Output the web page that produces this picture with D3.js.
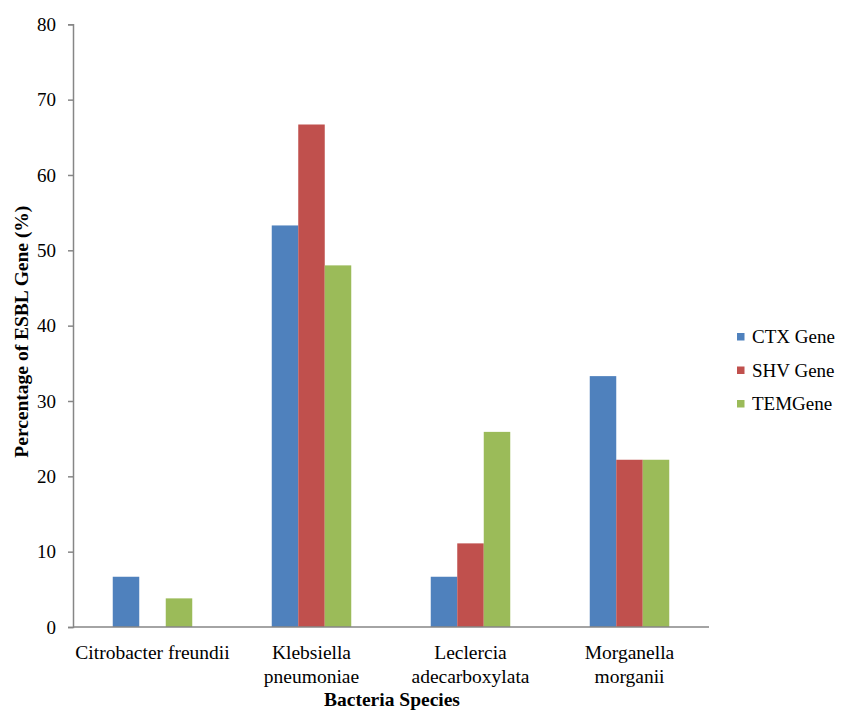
<!DOCTYPE html>
<html><head><meta charset="utf-8">
<script src="https://cdn.jsdelivr.net/npm/d3@7"></script>
<style>body{margin:0;background:#fff}svg{display:block}text{font-family:"Liberation Serif","Times New Roman",serif;fill:#000}</style>
</head><body>
<script>
const categories = [["Citrobacter freundii"], ["Klebsiella", "pneumoniae"], ["Leclercia", "adecarboxylata"], ["Morganella", "morganii"]];
const seriesNames = ["CTX Gene", "SHV Gene", "TEMGene"];
const ctxValues = [6.67, 53.3, 6.67, 33.3];
const shvValues = [0, 66.7, 11.1, 22.2];
const temValues = [3.8, 48.0, 25.9, 22.2];
const yTicks = [0, 10, 20, 30, 40, 50, 60, 70, 80];
const colors = ["#4F81BD", "#C0504D", "#9BBB59"];

const W = 843, H = 712;
const svg = d3.select("body").append("svg").attr("width", W).attr("height", H);
const x0 = 73, x1 = 709, yTop = 24.3, yBot = 627;
const keys = categories.map((c, i) => i);
const x = d3.scaleBand().domain(keys).range([x0, x1]).paddingInner(0).paddingOuter(0);
const y = d3.scaleLinear().domain([0, 80]).range([yBot, yTop]);
const bw = x.bandwidth() / 6;
const xs = d3.scaleBand().domain([0, 1, 2]).range([1.5 * bw, 4.5 * bw]);
const allSeries = [ctxValues, shvValues, temValues];

const g = svg.append("g");
keys.forEach(ci => {
  allSeries.forEach((vals, si) => {
    if (vals[ci] <= 0) return;
    g.append("rect")
      .attr("x", x(ci) + xs(si))
      .attr("y", y(vals[ci]))
      .attr("width", xs.bandwidth())
      .attr("height", yBot - y(vals[ci]))
      .attr("fill", colors[si]);
  });
});

// y axis
const yAxis = svg.append("g").attr("transform", `translate(${x0},0)`)
  .call(d3.axisLeft(y).tickValues(yTicks).tickSize(5).tickPadding(12).tickFormat(d3.format("d")));
yAxis.select(".domain").attr("stroke", "#868686").attr("stroke-width", 1.5);
yAxis.selectAll(".tick line").attr("stroke", "#868686").attr("stroke-width", 1.5);
yAxis.selectAll(".tick text").style("font-family", '"Liberation Serif",serif').style("font-size", "19px").attr("fill", "#000");

// x axis line
svg.append("line").attr("x1", x0).attr("x2", x1).attr("y1", yBot).attr("y2", yBot)
  .attr("stroke", "#868686").attr("stroke-width", 1.5);

// category labels
keys.forEach(ci => {
  const t = svg.append("text").attr("text-anchor", "middle")
    .attr("x", x(ci) + x.bandwidth() / 2).attr("y", 659).style("font-size", "19.5px");
  categories[ci].forEach((line, li) => {
    t.append("tspan").attr("x", x(ci) + x.bandwidth() / 2).attr("dy", li === 0 ? 0 : 23.5).text(line);
  });
});

// axis titles
svg.append("text").attr("text-anchor", "middle").attr("x", 392).attr("y", 706)
  .style("font-size", "19.5px").style("font-weight", "bold").text("Bacteria Species");
svg.append("text").attr("text-anchor", "middle")
  .attr("transform", `translate(28,${(yTop + yBot) / 2 + 6}) rotate(-90)`)
  .style("font-size", "19.5px").style("font-weight", "bold").text("Percentage of ESBL Gene (%)");

// legend
const leg = svg.append("g");
seriesNames.forEach((n, i) => {
  const ly = 337 + i * 33.5;
  leg.append("rect").attr("x", 737).attr("y", ly - 4).attr("width", 7.5).attr("height", 7.5).attr("fill", colors[i]);
  leg.append("text").attr("x", 752).attr("y", ly + 6).style("font-size", "19px").text(n);
});
</script>
</body></html>
